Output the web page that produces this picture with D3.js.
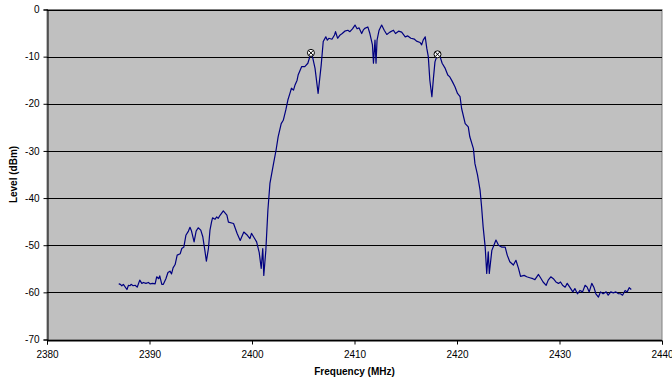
<!DOCTYPE html>
<html>
<head>
<meta charset="utf-8">
<script src="https://cdn.jsdelivr.net/npm/d3@7"></script>
<style>
  body { margin: 0; background: #fff; }
  svg text { font-family: "Liberation Sans", Arial, sans-serif; }
</style>
</head>
<body>
<div id="chart"></div>
<script>
// spectrum trace
var freq = [2387.0,2387.1,2387.3,2387.45,2387.8,2387.95,2388.1,2388.2,2388.4,2388.6,2388.8,2389.05,2389.25,2389.4,2389.65,2389.9,2390.05,2390.3,2390.55,2390.7,2390.9,2391.0,2391.2,2391.35,2391.6,2391.8,2392.0,2392.15,2392.3,2392.5,2392.7,2393.0,2393.15,2393.35,2393.55,2393.8,2393.95,2394.1,2394.35,2394.55,2394.75,2395.0,2395.2,2395.4,2395.55,2395.75,2395.9,2396.05,2396.15,2396.4,2396.55,2396.7,2396.9,2397.2,2397.55,2397.7,2398.2,2398.55,2398.85,2399.2,2399.55,2399.8,2399.95,2400.15,2400.45,2400.7,2400.9,2401.05,2401.15,2401.35,2401.55,2401.75,2402.1,2402.35,2402.55,2402.85,2403.05,2403.3,2403.5,2403.7,2403.85,2404.05,2404.2,2404.4,2404.5,2404.85,2405.15,2405.45,2405.75,2405.9,2406.15,2406.45,2406.75,2406.95,2407.2,2407.35,2407.5,2407.8,2408.05,2408.15,2408.35,2408.6,2408.8,2409.05,2409.35,2409.55,2409.8,2410.05,2410.25,2410.45,2410.7,2410.85,2411.0,2411.3,2411.5,2411.75,2411.85,2412.0,2412.1,2412.2,2412.4,2412.65,2412.9,2413.15,2413.45,2413.8,2414.0,2414.3,2414.6,2414.95,2415.2,2415.5,2415.85,2416.05,2416.4,2416.55,2416.7,2416.9,2417.05,2417.2,2417.35,2417.55,2417.7,2417.85,2418.1,2418.35,2418.55,2418.85,2419.1,2419.3,2419.55,2419.8,2420.05,2420.3,2420.45,2420.8,2421.1,2421.25,2421.6,2421.75,2422.0,2422.25,2422.4,2422.55,2422.75,2422.9,2423.05,2423.15,2423.4,2423.6,2423.8,2424.05,2424.35,2424.7,2424.9,2425.15,2425.5,2425.75,2426.0,2426.2,2426.55,2426.8,2427.1,2427.4,2427.6,2427.95,2428.15,2428.4,2428.7,2428.9,2429.15,2429.4,2429.65,2429.9,2430.1,2430.3,2430.55,2430.75,2431.0,2431.3,2431.5,2431.75,2432.0,2432.25,2432.5,2432.7,2432.9,2433.15,2433.35,2433.55,2433.8,2434.0,2434.25,2434.55,2434.75,2435.0,2435.25,2435.5,2435.75,2435.95,2436.15,2436.4,2436.6,2436.8,2437.0];
var level = [-58.3,-58.2,-58.6,-58.3,-59.4,-58.5,-58.6,-58.3,-58.6,-58.5,-58.9,-57.4,-58.1,-57.9,-58.1,-57.9,-58.2,-58.1,-58.2,-56.7,-57.1,-56.5,-58.3,-58.3,-57.1,-55.8,-55.5,-56.1,-54.8,-54.1,-52.1,-51.8,-50.7,-50.4,-47.9,-47.0,-46.2,-47.0,-49.3,-47.0,-46.3,-46.8,-48.2,-51.1,-53.4,-50.7,-46.8,-45.1,-44.2,-44.5,-44.0,-44.3,-43.6,-42.7,-43.6,-45.1,-45.4,-47.5,-49.0,-47.2,-47.9,-48.6,-47.5,-48.2,-49.3,-51.5,-54.9,-50.7,-56.4,-51.1,-42.6,-36.9,-32.7,-29.8,-27.0,-24.2,-23.5,-21.3,-19.2,-17.8,-16.7,-17.1,-16.0,-15.0,-13.9,-12.1,-12.1,-11.4,-9.2,-10.0,-12.5,-17.8,-11.8,-6.8,-5.8,-6.5,-6.1,-6.3,-5.4,-4.7,-6.1,-5.4,-5.1,-4.6,-4.4,-4.7,-4.1,-3.3,-4.1,-3.9,-5.1,-4.4,-4.0,-3.7,-5.1,-7.5,-11.4,-6.5,-11.4,-6.5,-4.4,-3.3,-4.4,-5.3,-4.8,-4.4,-5.1,-4.6,-4.8,-5.8,-5.6,-6.1,-6.3,-6.7,-7.0,-7.5,-6.5,-5.8,-8.2,-10.0,-15.0,-18.5,-14.6,-11.1,-9.5,-10.0,-11.4,-12.5,-13.9,-14.3,-15.3,-16.4,-17.8,-18.5,-21.0,-24.2,-24.9,-27.0,-29.5,-32.7,-35.1,-38.3,-41.9,-46.1,-50.4,-56.0,-51.4,-56.0,-51.1,-50.0,-48.9,-50.0,-50.4,-50.4,-52.1,-53.5,-54.2,-53.2,-54.9,-56.6,-56.4,-56.7,-56.9,-57.1,-57.3,-56.2,-56.9,-57.8,-58.5,-57.4,-56.7,-57.1,-57.8,-58.1,-57.8,-58.5,-58.9,-58.1,-58.9,-59.9,-59.2,-60.3,-59.6,-59.9,-58.5,-58.9,-59.9,-58.1,-58.9,-60.3,-61.0,-59.9,-60.3,-59.9,-60.6,-59.9,-60.1,-59.9,-60.3,-60.3,-60.6,-59.6,-59.9,-59.0,-59.4];

// delta markers
var markerFreq = [2405.75, 2418.1];
var markerLevel = [-9.2, -9.5];

var xTicks = [2380, 2390, 2400, 2410, 2420, 2430, 2440];
var yTicks = [0, -10, -20, -30, -40, -50, -60, -70];

var width = 672, height = 381;
var margin = {top: 9.5, right: 10, bottom: 41.5, left: 47};

var svg = d3.select("#chart").append("svg")
    .attr("width", width)
    .attr("height", height);

var x = d3.scaleLinear().domain([2380, 2440]).range([margin.left, width - margin.right]);
var y = d3.scaleLinear().domain([-70, 0]).range([height - margin.bottom, margin.top]);

// plot area
svg.append("rect")
    .attr("x", x(2380)).attr("y", y(0))
    .attr("width", x(2440) - x(2380))
    .attr("height", y(-70) - y(0))
    .attr("fill", "#c0c0c0")
    .attr("stroke", "#808080");

// gridlines
svg.append("g").selectAll("line")
    .data(yTicks)
    .enter().append("line")
    .attr("x1", x(2380)).attr("x2", x(2440))
    .attr("y1", function (d) { return Math.round(y(d)) + 0.5; })
    .attr("y2", function (d) { return Math.round(y(d)) + 0.5; })
    .attr("stroke", "#000")
    .attr("stroke-width", 1);

// axes
var xAxis = d3.axisBottom(x).tickValues(xTicks).tickSize(4).tickPadding(6).tickFormat(d3.format("d"));
var yAxis = d3.axisLeft(y).tickValues(yTicks).tickSize(4).tickPadding(4).tickFormat(d3.format("d"));

var gx = svg.append("g")
    .attr("transform", "translate(0," + (Math.round(y(-70)) + 0.5) + ")")
    .call(xAxis);
var gy = svg.append("g")
    .attr("transform", "translate(" + (Math.round(x(2380)) + 0.5) + ",0)")
    .call(yAxis);

[gx, gy].forEach(function (g) {
    g.select(".domain").attr("stroke", "#000");
    g.selectAll(".tick line").attr("stroke", "#000");
    g.selectAll(".tick text")
        .attr("fill", "#000")
        .style("font-size", "10px")
        .style("font-family", "'Liberation Sans', Arial, sans-serif");
});
// axisLeft uses U+2212 for negatives; keep hyphen like the reference
gy.selectAll(".tick text").text(function (d) { return String(d); });

// trace
var pts = freq.map(function (f, i) { return [f, level[i]]; });
var line = d3.line()
    .x(function (d) { return x(d[0]); })
    .y(function (d) { return y(d[1]); });

svg.append("path")
    .datum(pts)
    .attr("d", line)
    .attr("fill", "none")
    .attr("stroke", "#000080")
    .attr("stroke-width", 1.2)
    .attr("stroke-linejoin", "round");

// markers: circle with a cross
var mk = svg.append("g").selectAll("g")
    .data(markerFreq)
    .enter().append("g")
    .attr("transform", function (d, i) { return "translate(" + x(d) + "," + y(markerLevel[i]) + ")"; });
mk.append("circle")
    .attr("r", 3.5)
    .attr("fill", "#fff")
    .attr("stroke", "#000")
    .attr("stroke-width", 1);
mk.append("path")
    .attr("d", "M-2.2,-2.2L2.2,2.2M-2.2,2.2L2.2,-2.2")
    .attr("stroke", "#000")
    .attr("stroke-width", 1);

// axis titles
svg.append("text")
    .attr("x", (x(2380) + x(2440)) / 2)
    .attr("y", 375)
    .attr("text-anchor", "middle")
    .style("font-size", "10px")
    .style("font-weight", "bold")
    .text("Frequency (MHz)");

svg.append("text")
    .attr("transform", "translate(17," + ((y(0) + y(-70)) / 2) + ") rotate(-90)")
    .attr("text-anchor", "middle")
    .style("font-size", "10px")
    .style("font-weight", "bold")
    .text("Level (dBm)");
</script>
</body>
</html>
